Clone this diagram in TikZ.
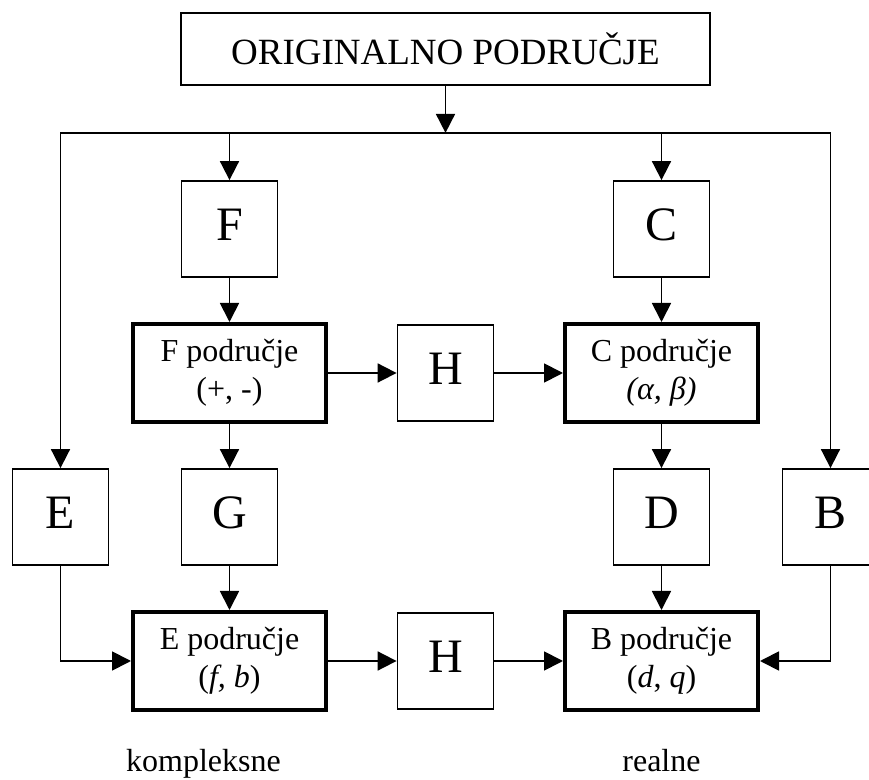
\documentclass[tikz,border=0pt]{standalone}
\usepackage{fontspec}
\setmainfont{Liberation Serif}
\usetikzlibrary{arrows.meta,positioning}

\begin{document}
\begin{tikzpicture}[
    node distance=72pt and 108pt, on grid,
    >={Triangle[length=9.5pt,width=9.5pt]},
    line width=0.9pt,
    topbox/.style={rectangle, draw, minimum width=264.5pt, minimum height=36pt, font=\fontsize{18.5}{22}\selectfont},
    letterbox/.style={rectangle, draw, minimum width=48pt, minimum height=48pt, text height=16pt, text depth=4.5pt, font=\fontsize{24}{28}\selectfont},
    regionbox/.style={rectangle, draw, line width=2pt, minimum width=96.5pt, minimum height=49pt, align=center, font=\fontsize{16}{19}\selectfont},
    caption/.style={text height=12pt, text depth=3.5pt, font=\fontsize{16}{19}\selectfont}
]
\useasboundingbox (0,0) rectangle (434.5pt,-390pt);
\node[topbox] (orig) at (222.75pt,-24.5pt) {ORIGINALNO PODRUČJE};
\coordinate[below=23.5pt of orig.south] (bus);
\node[letterbox, below left=90pt and 108pt of orig]  (F)  {F};
\node[letterbox, below right=90pt and 108pt of orig] (C)  {C};
\node[regionbox, below=of F]                         (Fp) {F područje\\(+, -)};
\node[regionbox, below=of C]                         (Cp) {C područje\\\textit{(α, β)}};
\node[letterbox, right=of Fp]                        (H1) {H};
\node[letterbox, below=of Fp]                        (G)  {G};
\node[letterbox, below=of Cp]                        (D)  {D};
\node[letterbox, left=84.5pt of G]                   (E)  {E};
\node[letterbox, right=84.5pt of D]                  (B)  {B};
\node[regionbox, below=of G]                         (Ep) {E područje\\(\textit{f, b})};
\node[regionbox, below=of D]                         (Bp) {B područje\\(\textit{d}, \textit{q})};
\node[letterbox, right=of Ep]                        (H2) {H};
\node[caption, below=51.25pt of Ep, xshift=-13pt]    (kompl) {kompleksne};
\node[caption, below=51.25pt of Bp]                  (real)  {realne};

\draw[->] (orig) -- (bus);
\draw[->] (bus) -| (E);
\draw[->] (bus) -| (B);
\draw[->] (bus -| F) -- (F);
\draw[->] (bus -| C) -- (C);
\draw[->] (F)  -- (Fp);
\draw[->] (C)  -- (Cp);
\draw[->] (Fp) -- (H1);
\draw[->] (H1) -- (Cp);
\draw[->] (Fp) -- (G);
\draw[->] (Cp) -- (D);
\draw[->] (G)  -- (Ep);
\draw[->] (D)  -- (Bp);
\draw[->] (Ep) -- (H2);
\draw[->] (H2) -- (Bp);
\draw[->] (E)  |- (Ep);
\draw[->] (B)  |- (Bp);
\end{tikzpicture}
\end{document}
